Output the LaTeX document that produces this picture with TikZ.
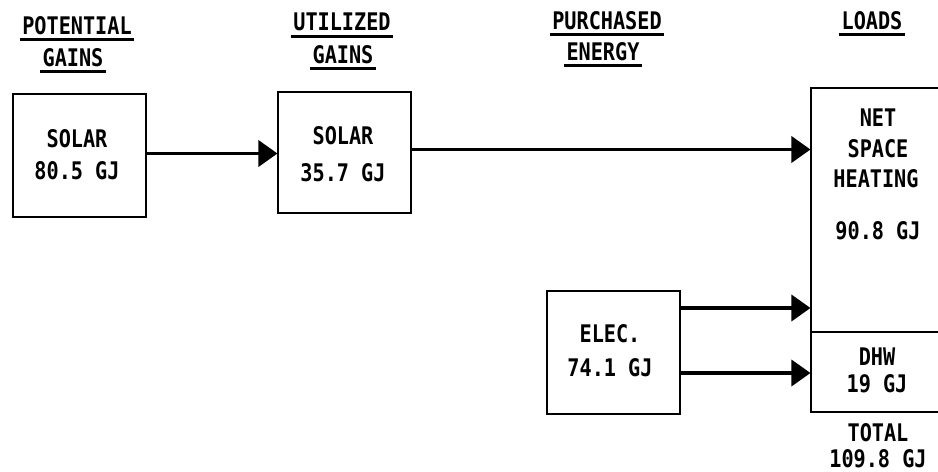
\documentclass[tikz,border=0pt]{standalone}
\usepackage{fontspec}
\usepackage{graphicx}
\newfontfamily\dmono{DejaVu Sans Mono}
\newcommand{\tallt}[1]{\scalebox{1}[1.2]{#1}}
\usetikzlibrary{arrows.meta,calc}
\tikzset{
  lbl/.style={font=\dmono\bfseries\fontsize{11.5}{14}\selectfont, inner sep=0pt, text depth=0pt},
  hdr/.style={lbl},
  uline/.style={line width=1.5pt},
  boxn/.style={draw, line width=1.6pt, inner sep=0pt},
  arr/.style={line width=2pt, -{Triangle[length=0.38cm,width=0.52cm]}, shorten >=-0.5pt},
}
\begin{document}
\begin{tikzpicture}[x=0.02cm,y=-0.02cm]
\useasboundingbox (0,0) rectangle (938,471);
\fill[white] (0,0) rectangle (938,471);
\clip (0,0) rectangle (938,471);

% headers
\node[hdr] (h1a) at (77,25) {\tallt{POTENTIAL}};
\node[hdr] (h1b) at (73,57) {\tallt{GAINS}};
\node[hdr] (h2a) at (342,22) {\tallt{UTILIZED}};
\node[hdr] (h2b) at (343,54) {\tallt{GAINS}};
\node[hdr] (h3a) at (607,20) {\tallt{PURCHASED}};
\node[hdr] (h3b) at (603,51) {\tallt{ENERGY}};
\node[hdr] (h4a) at (872,20) {\tallt{LOADS}};
\foreach \h in {h1a,h1b,h2a,h2b,h3a,h3b,h4a}
  \draw[uline] ([yshift=-3pt,xshift=-1pt]\h.south west) -- ([yshift=-3pt,xshift=1pt]\h.south east);

% boxes
\node[boxn, minimum width=2.66cm, minimum height=2.46cm] (b1) at (79.5,155.5) {};
\node[boxn, minimum width=2.66cm, minimum height=2.42cm] (b2) at (344.5,152.5) {};
\node[boxn, minimum width=2.66cm, minimum height=2.46cm] (el) at (613.5,352.5) {};
\node[boxn, minimum width=2.7cm, minimum height=4.88cm] (big) at (878.5,210) {};
\node[boxn, minimum width=2.7cm, minimum height=1.6cm] (dhw) at (878.5,372) {};

% box texts
\node[lbl] (t1a) at (77,138) {\tallt{SOLAR}};
\node[lbl] (t1b) at (77,170) {\tallt{80.5 GJ}};
\node[lbl] (t2a) at (343,135) {\tallt{SOLAR}};
\node[lbl] (t2b) at (343,172) {\tallt{35.7 GJ}};
\node[lbl] (t3a) at (610,333) {\tallt{ELEC.}};
\node[lbl] (t3b) at (610,367) {\tallt{74.1 GJ}};
\node[lbl] (t4a) at (878,118) {\tallt{NET}};
\node[lbl] (t4b) at (878,148) {\tallt{SPACE}};
\node[lbl] (t4c) at (876,178) {\tallt{HEATING}};
\node[lbl] (t4d) at (878,230) {\tallt{90.8 GJ}};
\node[lbl] (t5a) at (877,357) {\tallt{DHW}};
\node[lbl] (t5b) at (877,383) {\tallt{19 GJ}};
\node[lbl] (t6a) at (878,432) {\tallt{TOTAL}};
\node[lbl] (t6b) at (878,458) {\tallt{109.8 GJ}};

% arrows
\draw[arr] ($(b1.east)+(0,-2)$) -- (b2.west |- {$(b1.east)+(0,-2)$});
\draw[arr] ($(b2.east)+(0,-3)$) -- (big.west |- {$(b2.east)+(0,-3)$});
\coordinate (e1) at ($(el.east)+(0,-44.5)$);
\coordinate (e2) at ($(el.east)+(0,20.5)$);
\draw[arr] (e1) -- (big.west |- e1);
\draw[arr] (e2) -- (dhw.west |- e2);
\end{tikzpicture}
\end{document}
